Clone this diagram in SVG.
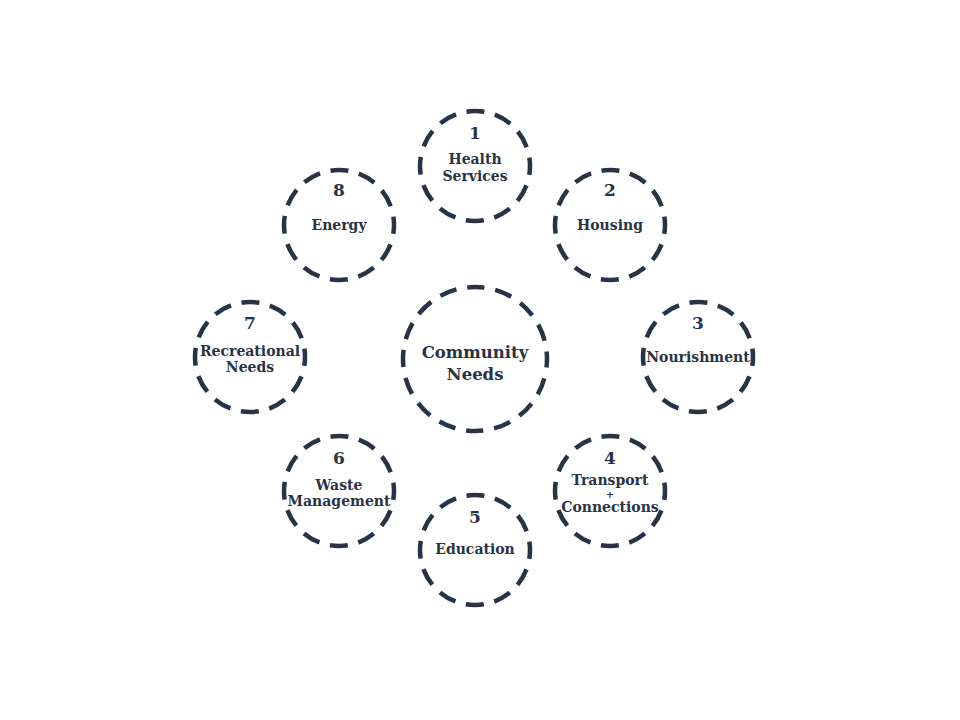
<svg xmlns="http://www.w3.org/2000/svg" width="960" height="720" viewBox="0 0 960 720">
<style>
.ring{fill:none;stroke:#283445;stroke-width:4.5;stroke-dasharray:18 10.8;stroke-dashoffset:9}
.big{stroke-dasharray:17.3 11;stroke-dashoffset:8.65}
text{font-family:"DejaVu Serif","Liberation Serif",serif;font-weight:bold;fill:#283445;text-anchor:middle}
.num{font-size:17px}
.lbl{font-size:14px}
.plus{font-size:10px}
.ctr{font-size:16.5px}
</style>
<rect width="960" height="720" fill="#ffffff"/>
<g id="connectors"></g>
<g id="center">
<circle class="ring big" cx="475" cy="359" r="72"/>
<text class="ctr" x="475" y="358">Community</text>
<text class="ctr" x="475" y="380">Needs</text>
</g>
<g id="n1">
<circle class="ring" cx="475" cy="166" r="55"/>
<text class="num" x="475" y="139">1</text>
<text class="lbl" x="475" y="164">Health</text>
<text class="lbl" x="475" y="181">Services</text>
</g>
<g id="n2">
<circle class="ring" cx="610" cy="225" r="55"/>
<text class="num" x="610" y="196">2</text>
<text class="lbl" x="610" y="230">Housing</text>
</g>
<g id="n3">
<circle class="ring" cx="698" cy="357" r="55"/>
<text class="num" x="698" y="329">3</text>
<text class="lbl" x="698" y="362">Nourishment</text>
</g>
<g id="n4">
<circle class="ring" cx="610" cy="491" r="55"/>
<text class="num" x="610" y="464">4</text>
<text class="lbl" x="610" y="485">Transport</text>
<text class="plus" x="610" y="497.5">+</text>
<text class="lbl" x="610" y="512">Connections</text>
</g>
<g id="n5">
<circle class="ring" cx="475" cy="550" r="55"/>
<text class="num" x="475" y="523">5</text>
<text class="lbl" x="475" y="554">Education</text>
</g>
<g id="n6">
<circle class="ring" cx="339" cy="491" r="55"/>
<text class="num" x="339" y="464">6</text>
<text class="lbl" x="339" y="490">Waste</text>
<text class="lbl" x="339" y="506">Management</text>
</g>
<g id="n7">
<circle class="ring" cx="250" cy="357" r="55"/>
<text class="num" x="250" y="329">7</text>
<text class="lbl" x="250" y="356">Recreational</text>
<text class="lbl" x="250" y="372">Needs</text>
</g>
<g id="n8">
<circle class="ring" cx="339" cy="225" r="55"/>
<text class="num" x="339" y="196">8</text>
<text class="lbl" x="339" y="230">Energy</text>
</g>
</svg>
